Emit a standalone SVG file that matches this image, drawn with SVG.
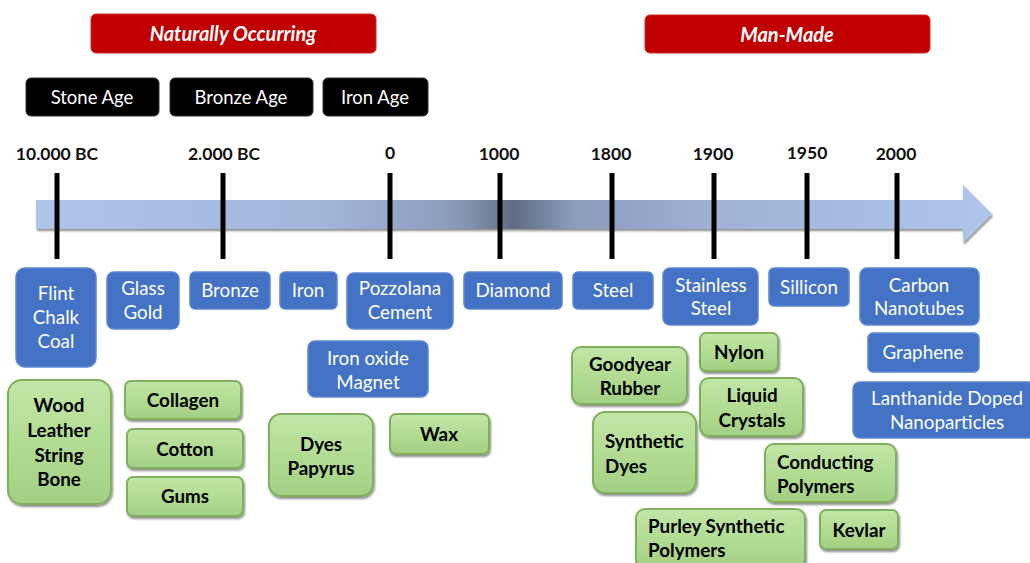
<svg xmlns="http://www.w3.org/2000/svg" width="1030" height="563" viewBox="0 0 1030 563">
<defs>
<linearGradient id="bar" x1="0" y1="0" x2="1" y2="0">
<stop offset="0" stop-color="#aec4e8"/>
<stop offset="0.3" stop-color="#a2b6da"/>
<stop offset="0.42" stop-color="#8e9fc0"/>
<stop offset="0.455" stop-color="#8391ae"/>
<stop offset="0.5" stop-color="#5f6b82"/>
<stop offset="0.56" stop-color="#8a9bbb"/>
<stop offset="0.72" stop-color="#a0b3d7"/>
<stop offset="1" stop-color="#aec5ea"/>
</linearGradient>
<linearGradient id="green" x1="0" y1="0" x2="0" y2="1">
<stop offset="0" stop-color="#c2e6a8"/>
<stop offset="0.5" stop-color="#b2dc93"/>
<stop offset="1" stop-color="#a3cf84"/>
</linearGradient>
<filter id="sh" x="-10%" y="-10%" width="130%" height="140%">
<feGaussianBlur in="SourceAlpha" stdDeviation="1.2"/>
<feOffset dx="1" dy="1.5"/>
<feComponentTransfer><feFuncA type="linear" slope="0.45"/></feComponentTransfer>
<feMerge><feMergeNode/><feMergeNode in="SourceGraphic"/></feMerge>
</filter>
</defs>
<style>
.red{fill:#c00000;stroke:#d42a2a;stroke-width:1}
.redt{font-family:Lato,"Open Sans",sans-serif;font-weight:bold;font-style:italic;font-size:20px;fill:#fff;text-anchor:middle}
.blk{fill:#000;stroke:#333;stroke-width:1}
.blkt{font-family:Lato,"Open Sans",sans-serif;font-size:18.5px;fill:#fff;text-anchor:middle}
.yr{font-family:Lato,"Open Sans",sans-serif;font-weight:bold;font-size:17.5px;fill:#111;text-anchor:middle}
.tick{stroke:#000;stroke-width:5}
.blue{fill:#4472c4;stroke:#5b86d2;stroke-width:1.5}
.bt{font-family:Lato,"Open Sans",sans-serif;font-size:18.8px;fill:#fff;text-anchor:middle}
.grn{fill:url(#green);stroke:#7fb05c;stroke-width:2;filter:url(#sh)}
.gt{font-family:Lato,"Open Sans",sans-serif;font-weight:bold;font-size:18.8px;fill:#000;text-anchor:middle}
.gl{text-anchor:start}
</style>

<g id="headers">
<g id="naturally"><rect class="red" x="91" y="14" width="285" height="39" rx="5"/><text class="redt" x="233" y="41">Naturally Occurring</text></g>
<g id="manmade"><rect class="red" x="645" y="15" width="285" height="38" rx="5"/><text class="redt" x="787" y="42">Man-Made</text></g>
<g id="stone"><rect class="blk" x="26" y="78" width="133" height="38" rx="5"/><text class="blkt" x="92" y="104">Stone Age</text></g>
<g id="bronzeage"><rect class="blk" x="170" y="78" width="143" height="38" rx="5"/><text class="blkt" x="241" y="104">Bronze Age</text></g>
<g id="ironage"><rect class="blk" x="323" y="78" width="105" height="38" rx="5"/><text class="blkt" x="375" y="104">Iron Age</text></g>
</g>

<g id="timeline">
<path d="M36,200 H963 V185 L992,214 L963,243 V229 H36 Z" fill="url(#bar)" filter="url(#sh)"/>
<g class="ticks">
<line class="tick" x1="57" y1="173" x2="57" y2="259"/>
<line class="tick" x1="223" y1="173" x2="223" y2="259"/>
<line class="tick" x1="390" y1="173" x2="390" y2="259"/>
<line class="tick" x1="500" y1="173" x2="500" y2="259"/>
<line class="tick" x1="612" y1="173" x2="612" y2="259"/>
<line class="tick" x1="714" y1="173" x2="714" y2="259"/>
<line class="tick" x1="807" y1="173" x2="807" y2="259"/>
<line class="tick" x1="897" y1="173" x2="897" y2="259"/>
</g>
<text class="yr" x="57" y="160">10.000 BC</text>
<text class="yr" x="224" y="160">2.000 BC</text>
<text class="yr" x="390" y="159">0</text>
<text class="yr" x="499" y="160">1000</text>
<text class="yr" x="611" y="160">1800</text>
<text class="yr" x="713" y="160">1900</text>
<text class="yr" x="807" y="159">1950</text>
<text class="yr" x="896" y="160">2000</text>
</g>

<g id="flint"><rect class="blue" x="16" y="268" width="80" height="99" rx="9"/><text class="bt" x="56" y="300">Flint</text><text class="bt" x="56" y="324">Chalk</text><text class="bt" x="56" y="348">Coal</text></g>
<g id="glass"><rect class="blue" x="107" y="272" width="72" height="57" rx="7"/><text class="bt" x="143" y="295">Glass</text><text class="bt" x="143" y="319">Gold</text></g>
<g id="bronze"><rect class="blue" x="190" y="272" width="80" height="37" rx="5"/><text class="bt" x="230" y="297">Bronze</text></g>
<g id="iron"><rect class="blue" x="280" y="272" width="57" height="37" rx="5"/><text class="bt" x="308" y="297">Iron</text></g>
<g id="pozzolana"><rect class="blue" x="347" y="273" width="106" height="56" rx="7"/><text class="bt" x="400" y="295">Pozzolana</text><text class="bt" x="400" y="319">Cement</text></g>
<g id="diamond"><rect class="blue" x="464" y="272" width="98" height="37" rx="5"/><text class="bt" x="513" y="297">Diamond</text></g>
<g id="steel"><rect class="blue" x="573" y="272" width="80" height="37" rx="5"/><text class="bt" x="613" y="297">Steel</text></g>
<g id="stainless"><rect class="blue" x="663" y="268" width="95" height="57" rx="7"/><text class="bt" x="711" y="292">Stainless</text><text class="bt" x="711" y="315">Steel</text></g>
<g id="sillicon"><rect class="blue" x="769" y="268" width="80" height="38" rx="5"/><text class="bt" x="809" y="294">Sillicon</text></g>
<g id="carbon"><rect class="blue" x="860" y="268" width="119" height="57" rx="7"/><text class="bt" x="919" y="292">Carbon</text><text class="bt" x="919" y="315">Nanotubes</text></g>
<g id="graphene"><rect class="blue" x="868" y="333" width="111" height="39" rx="5"/><text class="bt" x="923" y="359">Graphene</text></g>
<g id="lanthanide"><rect class="blue" x="853" y="382" width="182" height="56" rx="7"/><text class="bt" x="947" y="405">Lanthanide Doped</text><text class="bt" x="947" y="429">Nanoparticles</text></g>
<g id="ironoxide"><rect class="blue" x="308" y="341" width="120" height="56" rx="7"/><text class="bt" x="368" y="365">Iron oxide</text><text class="bt" x="368" y="389">Magnet</text></g>

<g id="wood"><rect class="grn" x="8" y="380" width="103" height="124" rx="14"/><text class="gt" x="59" y="412">Wood</text><text class="gt" x="59" y="437">Leather</text><text class="gt" x="59" y="462">String</text><text class="gt" x="59" y="486">Bone</text></g>
<g id="collagen"><rect class="grn" x="125" y="381" width="116" height="38" rx="6"/><text class="gt" x="183" y="407">Collagen</text></g>
<g id="cotton"><rect class="grn" x="127" y="429" width="116" height="39" rx="6"/><text class="gt" x="185" y="456">Cotton</text></g>
<g id="gums"><rect class="grn" x="127" y="477" width="116" height="39" rx="6"/><text class="gt" x="185" y="503">Gums</text></g>
<g id="dyes"><rect class="grn" x="269" y="414" width="104" height="82" rx="12"/><text class="gt" x="321" y="451">Dyes</text><text class="gt" x="321" y="475">Papyrus</text></g>
<g id="wax"><rect class="grn" x="390" y="414" width="99" height="40" rx="6"/><text class="gt" x="439" y="441">Wax</text></g>
<g id="goodyear"><rect class="grn" x="572" y="347" width="115" height="57" rx="9"/><text class="gt" x="630" y="371">Goodyear</text><text class="gt" x="630" y="395">Rubber</text></g>
<g id="nylon"><rect class="grn" x="700" y="333" width="78" height="38" rx="6"/><text class="gt" x="739" y="359">Nylon</text></g>
<g id="liquid"><rect class="grn" x="700" y="378" width="103" height="58" rx="9"/><text class="gt" x="752" y="402">Liquid</text><text class="gt" x="752" y="427">Crystals</text></g>
<g id="synthetic"><rect class="grn" x="593" y="412" width="103" height="81" rx="12"/><text class="gt gl" x="605" y="448">Synthetic</text><text class="gt gl" x="605" y="473">Dyes</text></g>
<g id="conducting"><rect class="grn" x="765" y="444" width="131" height="58" rx="9"/><text class="gt gl" x="777" y="469">Conducting</text><text class="gt gl" x="777" y="493">Polymers</text></g>
<g id="purley"><rect class="grn" x="636" y="509" width="169" height="60" rx="9"/><text class="gt gl" x="648" y="533">Purley Synthetic</text><text class="gt gl" x="648" y="557">Polymers</text></g>
<g id="kevlar"><rect class="grn" x="820" y="510" width="78" height="39" rx="6"/><text class="gt" x="859" y="537">Kevlar</text></g>
</svg>
